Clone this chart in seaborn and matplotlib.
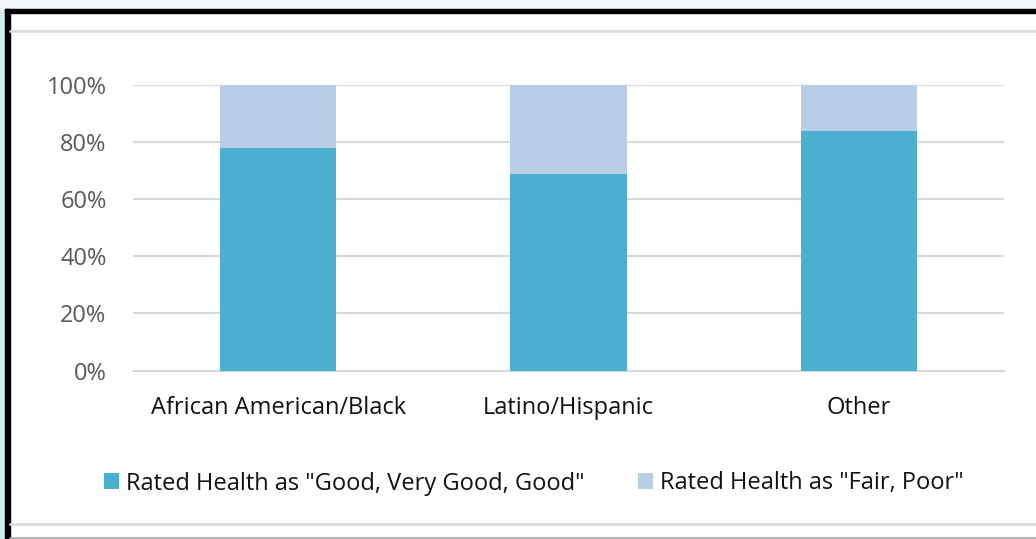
import matplotlib
matplotlib.use("Agg")
import matplotlib.pyplot as plt
from matplotlib.patches import Rectangle
from matplotlib.lines import Line2D
from matplotlib.ticker import FuncFormatter
import seaborn as sns
import pandas as pd

categories = ["African American/Black", "Latino/Hispanic", "Other"]
good = [78, 69, 84]
fair_poor = [22, 31, 16]
series_labels = ['Rated Health as "Good, Very Good, Good"', 'Rated Health as "Fair, Poor"']
y_ticks = [0, 20, 40, 60, 80, 100]

TEAL = "#4BB0D0"
LIGHT = "#B9CDE5"

sns.set_theme(style="white")
plt.rcParams["font.family"] = ["Open Sans", "DejaVu Sans"]

W, H = 1036, 539
fig = plt.figure(figsize=(W / 100, H / 100), dpi=100, facecolor="white")

# frame decorations around the chart panel
def fx(px):
    return px / W

def fy(py):
    return 1 - py / H

fig.patches.append(Rectangle((0, fy(539)), fx(5), 1, transform=fig.transFigure,
                             color="#D4EAF2", zorder=0))
fig.patches.append(Rectangle((0, fy(9)), 1, 9 / H, transform=fig.transFigure,
                             color="#F3F7FB", zorder=0))
fig.patches.append(Rectangle((fx(5), fy(13)), 1, 4.5 / H, transform=fig.transFigure,
                             color="black", zorder=1))
fig.patches.append(Rectangle((fx(5), 0), fx(5), fy(9), transform=fig.transFigure,
                             color="black", zorder=1))
fig.lines.append(Line2D([fx(10), 1], [fy(31), fy(31)], transform=fig.transFigure,
                        color="#DCDCDC", lw=2))
fig.lines.append(Line2D([fx(10), 1], [fy(523.5), fy(523.5)], transform=fig.transFigure,
                        color="#DCDCDC", lw=2))
fig.lines.append(Line2D([fx(10), 1], [fy(537.5), fy(537.5)], transform=fig.transFigure,
                        color="#A8A8A8", lw=1.2))

ax = fig.add_axes([fx(133), fy(370.5), fx(1004) - fx(133), (370.5 - 85) / H])
ax.set_facecolor("white")

df = pd.DataFrame({"category": categories, "good": good,
                   "total": [g + f for g, f in zip(good, fair_poor)]})

sns.barplot(data=df, x="category", y="total", color=LIGHT, width=0.4,
            saturation=1, ax=ax, label=series_labels[1], zorder=3, linewidth=0)
sns.barplot(data=df, x="category", y="good", color=TEAL, width=0.4,
            saturation=1, ax=ax, label=series_labels[0], zorder=4, linewidth=0)

ax.set_xlim(-0.5, len(categories) - 0.5)
ax.set_ylim(0, 100)
ax.set_yticks(y_ticks)
ax.yaxis.set_major_formatter(FuncFormatter(lambda v, _: f"{int(v)}%"))
ax.grid(axis="y", color="#D9D9D9", lw=1.5, zorder=0)
ax.set_axisbelow(True)
for s in ["top", "right", "left"]:
    ax.spines[s].set_visible(False)
ax.spines["bottom"].set_color("#D9D9D9")
ax.spines["bottom"].set_linewidth(1.5)
ax.set_xlabel("")
ax.set_ylabel("")
ax.tick_params(axis="y", length=0, pad=19, labelsize=17, labelcolor="#595959")
ax.tick_params(axis="x", length=0, pad=18.5, labelsize=17, labelcolor="#111111")

handles, labels = ax.get_legend_handles_labels()
order = [labels.index(series_labels[0]), labels.index(series_labels[1])]
leg = fig.legend([handles[i] for i in order], [labels[i] for i in order],
                 loc="center", bbox_to_anchor=(fx(534), fy(483.5)), ncol=2,
                 frameon=False, fontsize=17, handlelength=0.65, handleheight=0.65,
                 handletextpad=0.3, columnspacing=2.25, labelcolor="#111111")
if ax.get_legend() is not None:
    ax.get_legend().remove()

fig.savefig("out.png", dpi=100, facecolor=fig.get_facecolor())
